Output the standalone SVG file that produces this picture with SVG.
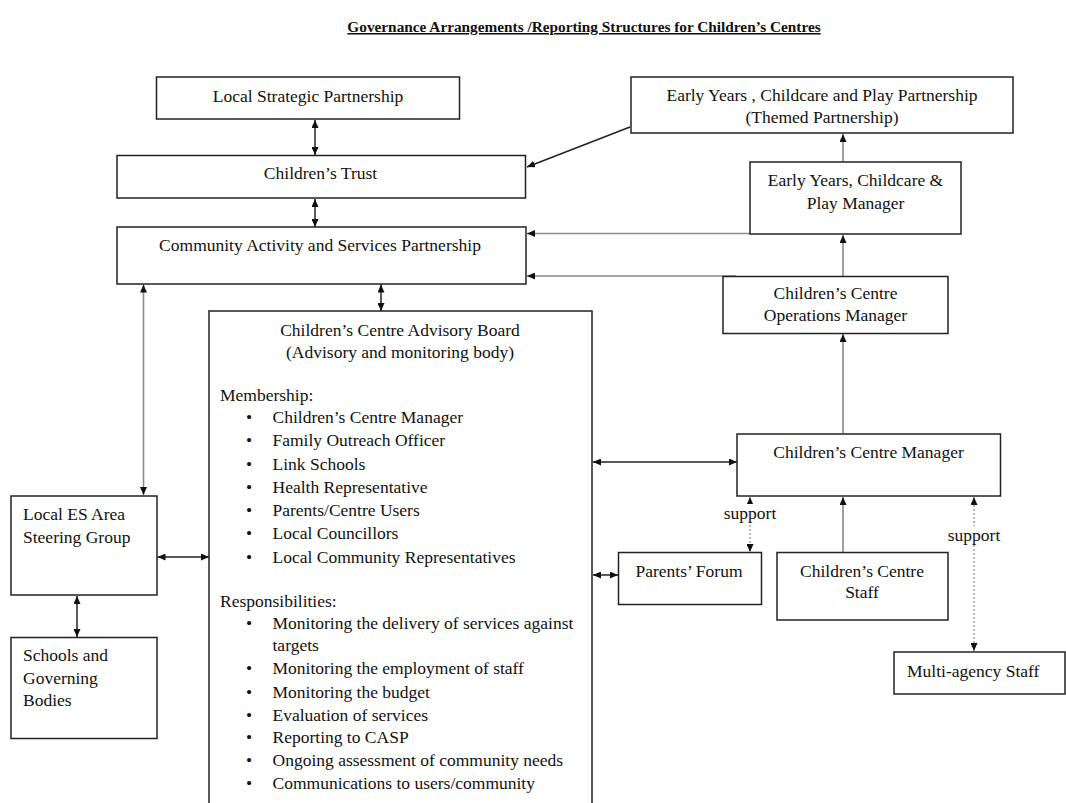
<svg xmlns="http://www.w3.org/2000/svg" width="1066" height="803" viewBox="0 0 1066 803">
<style>
.box{fill:#fff;stroke:#222;stroke-width:1.5}
.t{font-family:"Liberation Serif","Times New Roman",serif;font-size:17.5px;fill:#111}
.c{text-anchor:middle}
.title{font-family:"Liberation Serif","Times New Roman",serif;font-size:15.3px;font-weight:bold;text-decoration:underline;fill:#111;text-anchor:middle}
.k{stroke:#222;stroke-width:1.5;fill:none}
.g{stroke:#8a8a8a;stroke-width:1.6;fill:none}
.d{stroke:#999;stroke-width:1.4;stroke-dasharray:2,2;fill:none}
.lbl{fill:#fff;stroke:none}
</style>
<defs>
<marker id="ah" markerWidth="8" markerHeight="7" refX="8" refY="3.5" orient="auto-start-reverse" markerUnits="userSpaceOnUse">
<path d="M0,0 L8,3.5 L0,7 z" fill="#111"/>
</marker>
</defs>
<rect width="1066" height="803" fill="#fff"/>
<text id="title" class="title" x="584" y="32">Governance Arrangements /Reporting Structures for Children’s Centres</text>

<g id="connectors">
<line class="k" x1="315" y1="120" x2="315" y2="155" marker-start="url(#ah)" marker-end="url(#ah)"/>
<line class="k" x1="315" y1="199" x2="315" y2="227" marker-start="url(#ah)" marker-end="url(#ah)"/>
<line class="k" x1="630" y1="127" x2="527" y2="167" marker-end="url(#ah)"/>
<line class="g" x1="843" y1="162" x2="843" y2="134" marker-end="url(#ah)"/>
<line class="g" x1="750" y1="233.5" x2="527" y2="233.5" marker-end="url(#ah)"/>
<line class="g" x1="736" y1="276" x2="527" y2="276" marker-end="url(#ah)"/>
<line class="g" x1="843" y1="276" x2="843" y2="235" marker-end="url(#ah)"/>
<line class="g" x1="843" y1="433" x2="843" y2="334" marker-end="url(#ah)"/>
<line class="g" x1="143.5" y1="284.5" x2="143.5" y2="495" marker-start="url(#ah)" marker-end="url(#ah)"/>
<line class="k" x1="381" y1="284.5" x2="381" y2="311" marker-start="url(#ah)" marker-end="url(#ah)"/>
<line class="k" x1="593" y1="462" x2="737" y2="462" marker-start="url(#ah)" marker-end="url(#ah)"/>
<line class="k" x1="593" y1="575" x2="618" y2="575" marker-start="url(#ah)" marker-end="url(#ah)"/>
<line class="k" x1="157.5" y1="557" x2="209" y2="557" marker-start="url(#ah)" marker-end="url(#ah)"/>
<line class="k" x1="77" y1="596" x2="77" y2="637" marker-start="url(#ah)" marker-end="url(#ah)"/>
<line class="d" x1="750" y1="497" x2="750" y2="552" marker-start="url(#ah)" marker-end="url(#ah)"/>
<line class="g" x1="843" y1="552" x2="843" y2="497" marker-end="url(#ah)"/>
<line class="d" x1="974" y1="497" x2="974" y2="651" marker-start="url(#ah)" marker-end="url(#ah)"/>
<rect class="lbl" x="723" y="504" width="54" height="18"/>
<text class="t c" x="750" y="519">support</text>
<rect class="lbl" x="947" y="526" width="54" height="18"/>
<text class="t c" x="974" y="541">support</text>
</g>

<g id="lsp">
<rect class="box" x="156.5" y="77" width="303" height="42"/>
<text class="t c" x="308" y="102">Local Strategic Partnership</text>
</g>
<g id="ct">
<rect class="box" x="117" y="155.5" width="408.5" height="42.5"/>
<text class="t c" x="320.5" y="179">Children’s Trust</text>
</g>
<g id="casp">
<rect class="box" x="117" y="227" width="409" height="57"/>
<text class="t c" x="320" y="251">Community Activity and Services Partnership</text>
</g>
<g id="eyp">
<rect class="box" x="631" y="77" width="382" height="56"/>
<text class="t c" x="822" y="101">Early Years , Childcare and Play Partnership</text>
<text class="t c" x="822" y="122.5">(Themed Partnership)</text>
</g>
<g id="eym">
<rect class="box" x="750" y="162" width="211" height="72"/>
<text class="t c" x="855.5" y="186">Early Years, Childcare &amp;</text>
<text class="t c" x="855.5" y="208.5">Play Manager</text>
</g>
<g id="ops">
<rect class="box" x="723" y="276.5" width="225" height="57"/>
<text class="t c" x="835.5" y="299">Children’s Centre</text>
<text class="t c" x="835.5" y="321">Operations Manager</text>
</g>
<g id="ccab">
<rect class="box" x="209" y="311" width="383" height="500"/>
<text class="t c" x="400" y="336">Children’s Centre Advisory Board</text>
<text class="t c" x="400" y="358">(Advisory and monitoring body)</text>
<text class="t" x="220" y="401">Membership:</text>
<text class="t" x="246" y="423">•</text><text class="t" x="272.5" y="423">Children’s Centre Manager</text>
<text class="t" x="246" y="446">•</text><text class="t" x="272.5" y="446">Family Outreach Officer</text>
<text class="t" x="246" y="469.5">•</text><text class="t" x="272.5" y="469.5">Link Schools</text>
<text class="t" x="246" y="493">•</text><text class="t" x="272.5" y="493">Health Representative</text>
<text class="t" x="246" y="516">•</text><text class="t" x="272.5" y="516">Parents/Centre Users</text>
<text class="t" x="246" y="539">•</text><text class="t" x="272.5" y="539">Local Councillors</text>
<text class="t" x="246" y="562.5">•</text><text class="t" x="272.5" y="562.5">Local Community Representatives</text>
<text class="t" x="220" y="606.5">Responsibilities:</text>
<text class="t" x="246" y="629">•</text><text class="t" x="272.5" y="629">Monitoring the delivery of services against</text>
<text class="t" x="272.5" y="651">targets</text>
<text class="t" x="246" y="674">•</text><text class="t" x="272.5" y="674">Monitoring the employment of staff</text>
<text class="t" x="246" y="697.5">•</text><text class="t" x="272.5" y="697.5">Monitoring the budget</text>
<text class="t" x="246" y="721">•</text><text class="t" x="272.5" y="721">Evaluation of services</text>
<text class="t" x="246" y="742.5">•</text><text class="t" x="272.5" y="742.5">Reporting to CASP</text>
<text class="t" x="246" y="766">•</text><text class="t" x="272.5" y="766">Ongoing assessment of community needs</text>
<text class="t" x="246" y="789">•</text><text class="t" x="272.5" y="789">Communications to users/community</text>
</g>
<g id="ccm">
<rect class="box" x="737" y="434" width="263.5" height="62"/>
<text class="t c" x="868.5" y="458">Children’s Centre Manager</text>
</g>
<g id="pf">
<rect class="box" x="618.5" y="552.5" width="143" height="52"/>
<text class="t c" x="689" y="577">Parents’ Forum</text>
</g>
<g id="ccs">
<rect class="box" x="777" y="552.5" width="171" height="67.5"/>
<text class="t c" x="862" y="577">Children’s Centre</text>
<text class="t c" x="862" y="598">Staff</text>
</g>
<g id="mas">
<rect class="box" x="894" y="652" width="171" height="42"/>
<text class="t" x="907" y="677">Multi-agency Staff</text>
</g>
<g id="les">
<rect class="box" x="11" y="496" width="146" height="99"/>
<text class="t" x="23" y="519.5">Local ES Area</text>
<text class="t" x="23" y="542.5">Steering Group</text>
</g>
<g id="sgb">
<rect class="box" x="11" y="637.5" width="146" height="101"/>
<text class="t" x="23" y="661">Schools and</text>
<text class="t" x="23" y="684">Governing</text>
<text class="t" x="23" y="706">Bodies</text>
</g>
</svg>
